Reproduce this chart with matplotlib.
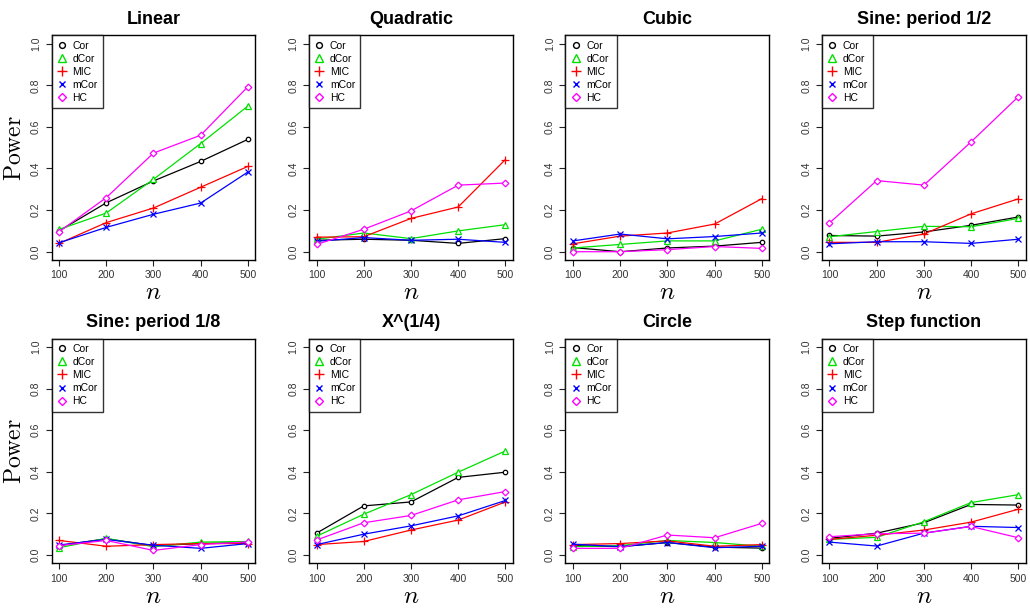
import matplotlib
matplotlib.use("Agg")
import matplotlib.pyplot as plt

plt.rcParams['font.family'] = ['Liberation Sans', 'DejaVu Sans']
plt.rcParams['mathtext.fontset'] = 'cm'

# sample sizes and panel titles
n = [100, 200, 300, 400, 500]
titles = ["Linear", "Quadratic", "Cubic", "Sine: period 1/2",
          "Sine: period 1/8", "X^(1/4)", "Circle", "Step function"]

# power values, one row per panel
cor = [[0.10, 0.235, 0.34, 0.434, 0.54],
       [0.055, 0.06, 0.055, 0.04, 0.063],
       [0.02, 0.0, 0.018, 0.027, 0.045],
       [0.078, 0.075, 0.095, 0.127, 0.167],
       [0.045, 0.078, 0.045, 0.055, 0.06],
       [0.105, 0.236, 0.255, 0.373, 0.398],
       [0.045, 0.04, 0.06, 0.038, 0.033],
       [0.08, 0.105, 0.155, 0.243, 0.24]]
dcor = [[0.107, 0.186, 0.348, 0.52, 0.70],
        [0.06, 0.09, 0.063, 0.10, 0.13],
        [0.018, 0.035, 0.052, 0.052, 0.108],
        [0.072, 0.097, 0.122, 0.12, 0.16],
        [0.035, 0.08, 0.04, 0.062, 0.065],
        [0.09, 0.196, 0.29, 0.398, 0.50],
        [0.04, 0.045, 0.07, 0.06, 0.042],
        [0.075, 0.085, 0.16, 0.252, 0.29]]
mic = [[0.04, 0.14, 0.21, 0.31, 0.41],
       [0.07, 0.072, 0.16, 0.215, 0.443],
       [0.038, 0.075, 0.09, 0.133, 0.255],
       [0.045, 0.045, 0.085, 0.182, 0.254],
       [0.07, 0.042, 0.05, 0.055, 0.055],
       [0.05, 0.065, 0.12, 0.168, 0.255],
       [0.05, 0.055, 0.068, 0.042, 0.05],
       [0.075, 0.095, 0.12, 0.158, 0.22]]
mcor = [[0.043, 0.117, 0.18, 0.234, 0.383],
        [0.05, 0.068, 0.055, 0.06, 0.045],
        [0.052, 0.085, 0.062, 0.073, 0.09],
        [0.038, 0.048, 0.048, 0.04, 0.06],
        [0.048, 0.075, 0.047, 0.032, 0.055],
        [0.05, 0.10, 0.14, 0.188, 0.262],
        [0.052, 0.04, 0.06, 0.035, 0.042],
        [0.062, 0.043, 0.105, 0.138, 0.132]]
hc = [[0.096, 0.26, 0.474, 0.56, 0.793],
      [0.035, 0.108, 0.196, 0.32, 0.33],
      [0.0, 0.0, 0.01, 0.025, 0.016],
      [0.138, 0.342, 0.32, 0.528, 0.745],
      [0.045, 0.07, 0.022, 0.05, 0.063],
      [0.072, 0.155, 0.19, 0.265, 0.305],
      [0.032, 0.032, 0.096, 0.083, 0.152],
      [0.088, 0.102, 0.105, 0.137, 0.083]]

methods = ["Cor", "dCor", "MIC", "mCor", "HC"]
series = [cor, dcor, mic, mcor, hc]
colors = ["black", "#00e000", "red", "blue", "magenta"]
markers = ["o", "^", "+", "x", "D"]
msizes = [3.2, 4.5, 5.5, 4.0, 3.4]

fig = plt.figure(figsize=(10.3, 6.09), dpi=100)
lefts = [0.050, 0.300, 0.549, 0.798]
bottoms = [0.573, 0.075]
w, h = 0.198, 0.369

for i, title in enumerate(titles):
    ax = fig.add_axes([lefts[i % 4], bottoms[i // 4], w, h])
    handles = []
    for s, name, c, m, ms in zip(series, methods, colors, markers, msizes):
        ax.plot(n, s[i], color=c, lw=0.9)
        filled = m in ("+", "x")
        ax.plot(n, s[i], ls="none", marker=m, ms=ms, mec=c,
                mfc=c if filled else "white", mew=0.9)
        hnd, = ax.plot([], [], ls="none", marker=m, ms=ms + 1, mec=c,
                       mfc=c if filled else "none", mew=1)
        handles.append(hnd)
    ax.set_xlim(84, 516)
    ax.set_ylim(-0.04, 1.04)
    ax.set_xticks(n)
    ax.set_yticks([0.0, 0.2, 0.4, 0.6, 0.8, 1.0])
    ax.set_yticklabels(["0.0", "0.2", "0.4", "0.6", "0.8", "1.0"],
                       rotation=90, va="center")
    ax.tick_params(labelsize=7.5, direction="out", length=4, width=0.8,
                   colors="#222222", labelcolor="#333333")
    for sp in ax.spines.values():
        sp.set_linewidth(1.0)
    ax.set_title(title, fontsize=13, fontweight="bold", pad=8)
    ax.set_xlabel(r"$n$", fontsize=18, labelpad=0)
    if i % 4 == 0:
        ax.set_ylabel(r"$\mathrm{Power}$", fontsize=17, labelpad=4)
    leg = ax.legend(handles, methods, loc="upper left", fontsize=7.5,
                    frameon=True, fancybox=False, borderaxespad=0,
                    handlelength=1.0, handletextpad=0.5, labelspacing=0.3,
                    borderpad=0.5)
    leg.get_frame().set_edgecolor("black")
    leg.get_frame().set_linewidth(1.0)

fig.savefig("out.png", dpi=100)
